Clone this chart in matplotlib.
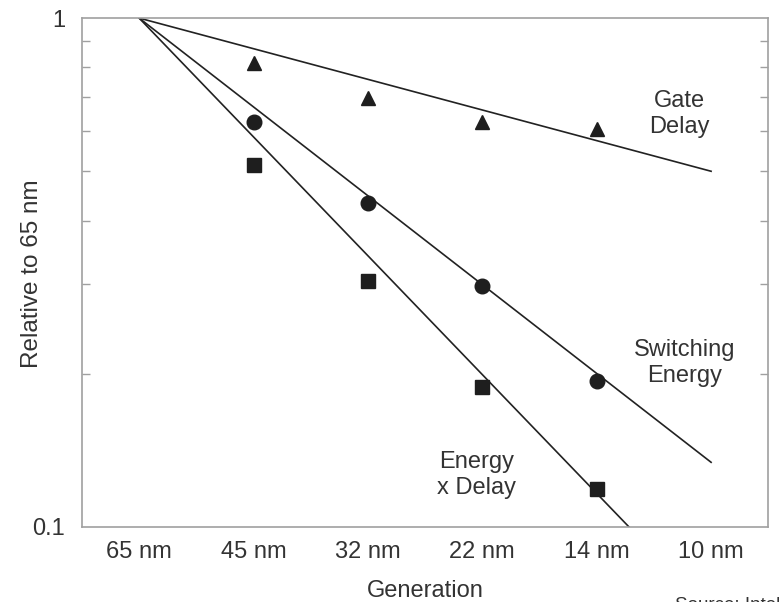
import matplotlib
matplotlib.use("Agg")
import matplotlib.pyplot as plt
from matplotlib.ticker import LogLocator, NullFormatter, FixedLocator

plt.rcParams['font.family'] = ['Liberation Sans', 'DejaVu Sans']

generations = ["65 nm", "45 nm", "32 nm", "22 nm", "14 nm", "10 nm"]
marker_gens = [1, 2, 3, 4]  # 45, 32, 22, 14 nm

gate_delay = [0.816, 0.696, 0.625, 0.605]
switching_energy = [0.625, 0.433, 0.297, 0.194]
energy_delay = [0.514, 0.304, 0.188, 0.119]

fit_x = [0, 5]
gate_fit = [1.0, 0.5]
switching_fit = [1.0, 0.134]
energy_delay_fit = [1.0, 0.068]

text_color = "#333333"
spine_color = "#a0a0a0"
mark_color = "#1e1e1e"
FS = 17

fig = plt.figure(figsize=(7.8, 6.02), dpi=100)
ax = fig.add_axes([0.105, 0.1246, 0.88, 0.8454])

ax.plot(fit_x, gate_fit, color="#222222", lw=1.2, zorder=2)
ax.plot(fit_x, switching_fit, color="#222222", lw=1.2, zorder=2)
ax.plot(fit_x, energy_delay_fit, color="#222222", lw=1.2, zorder=2)

ax.plot(marker_gens, gate_delay, ls="none", marker="^", ms=10, color=mark_color, zorder=3)
ax.plot(marker_gens, switching_energy, ls="none", marker="o", ms=10.5, color=mark_color, zorder=3)
ax.plot(marker_gens, energy_delay, ls="none", marker="s", ms=10, color=mark_color, zorder=3)

ax.set_yscale("log")
ax.set_ylim(0.1, 1)
ax.set_xlim(-0.5, 5.5)

ax.set_xticks(range(len(generations)))
ax.set_xticklabels(generations)
ax.yaxis.set_major_locator(FixedLocator([0.1, 1]))
ax.set_yticklabels(["0.1", "1"])
ax.yaxis.set_minor_locator(LogLocator(base=10, subs=[2, 3, 4, 5, 6, 7, 8, 9]))
ax.yaxis.set_minor_formatter(NullFormatter())

ax.tick_params(axis="x", length=0, pad=10, labelsize=FS, colors=text_color)
ax.tick_params(axis="y", which="major", length=0, pad=12, labelsize=FS, colors=text_color)
ax.tick_params(axis="y", which="minor", direction="in", length=6, width=1,
               color=spine_color, left=True, right=True)

for s in ax.spines.values():
    s.set_color(spine_color)
    s.set_linewidth(1.2)

ax.set_xlabel("Generation", fontsize=FS, color=text_color, labelpad=12)
fig.text(32 / 780, 1 - 274 / 602, "Relative to 65 nm", fontsize=17.5, color=text_color,
         rotation=90, ha="center", va="center")

ax.text(4.72, 0.648, "Gate\nDelay", ha="center", va="center", fontsize=FS,
        color=text_color, linespacing=1.2)
ax.text(4.77, 0.210, "Switching\nEnergy", ha="center", va="center", fontsize=FS,
        color=text_color, linespacing=1.2)
ax.text(2.95, 0.1265, "Energy\nx Delay", ha="center", va="center", fontsize=FS,
        color=text_color, linespacing=1.2)

fig.text(675 / 780, 1 - 606 / 602, "Source: Intel", fontsize=13.5, color=text_color,
         ha="left", va="center")

fig.savefig("out.png", dpi=100)
